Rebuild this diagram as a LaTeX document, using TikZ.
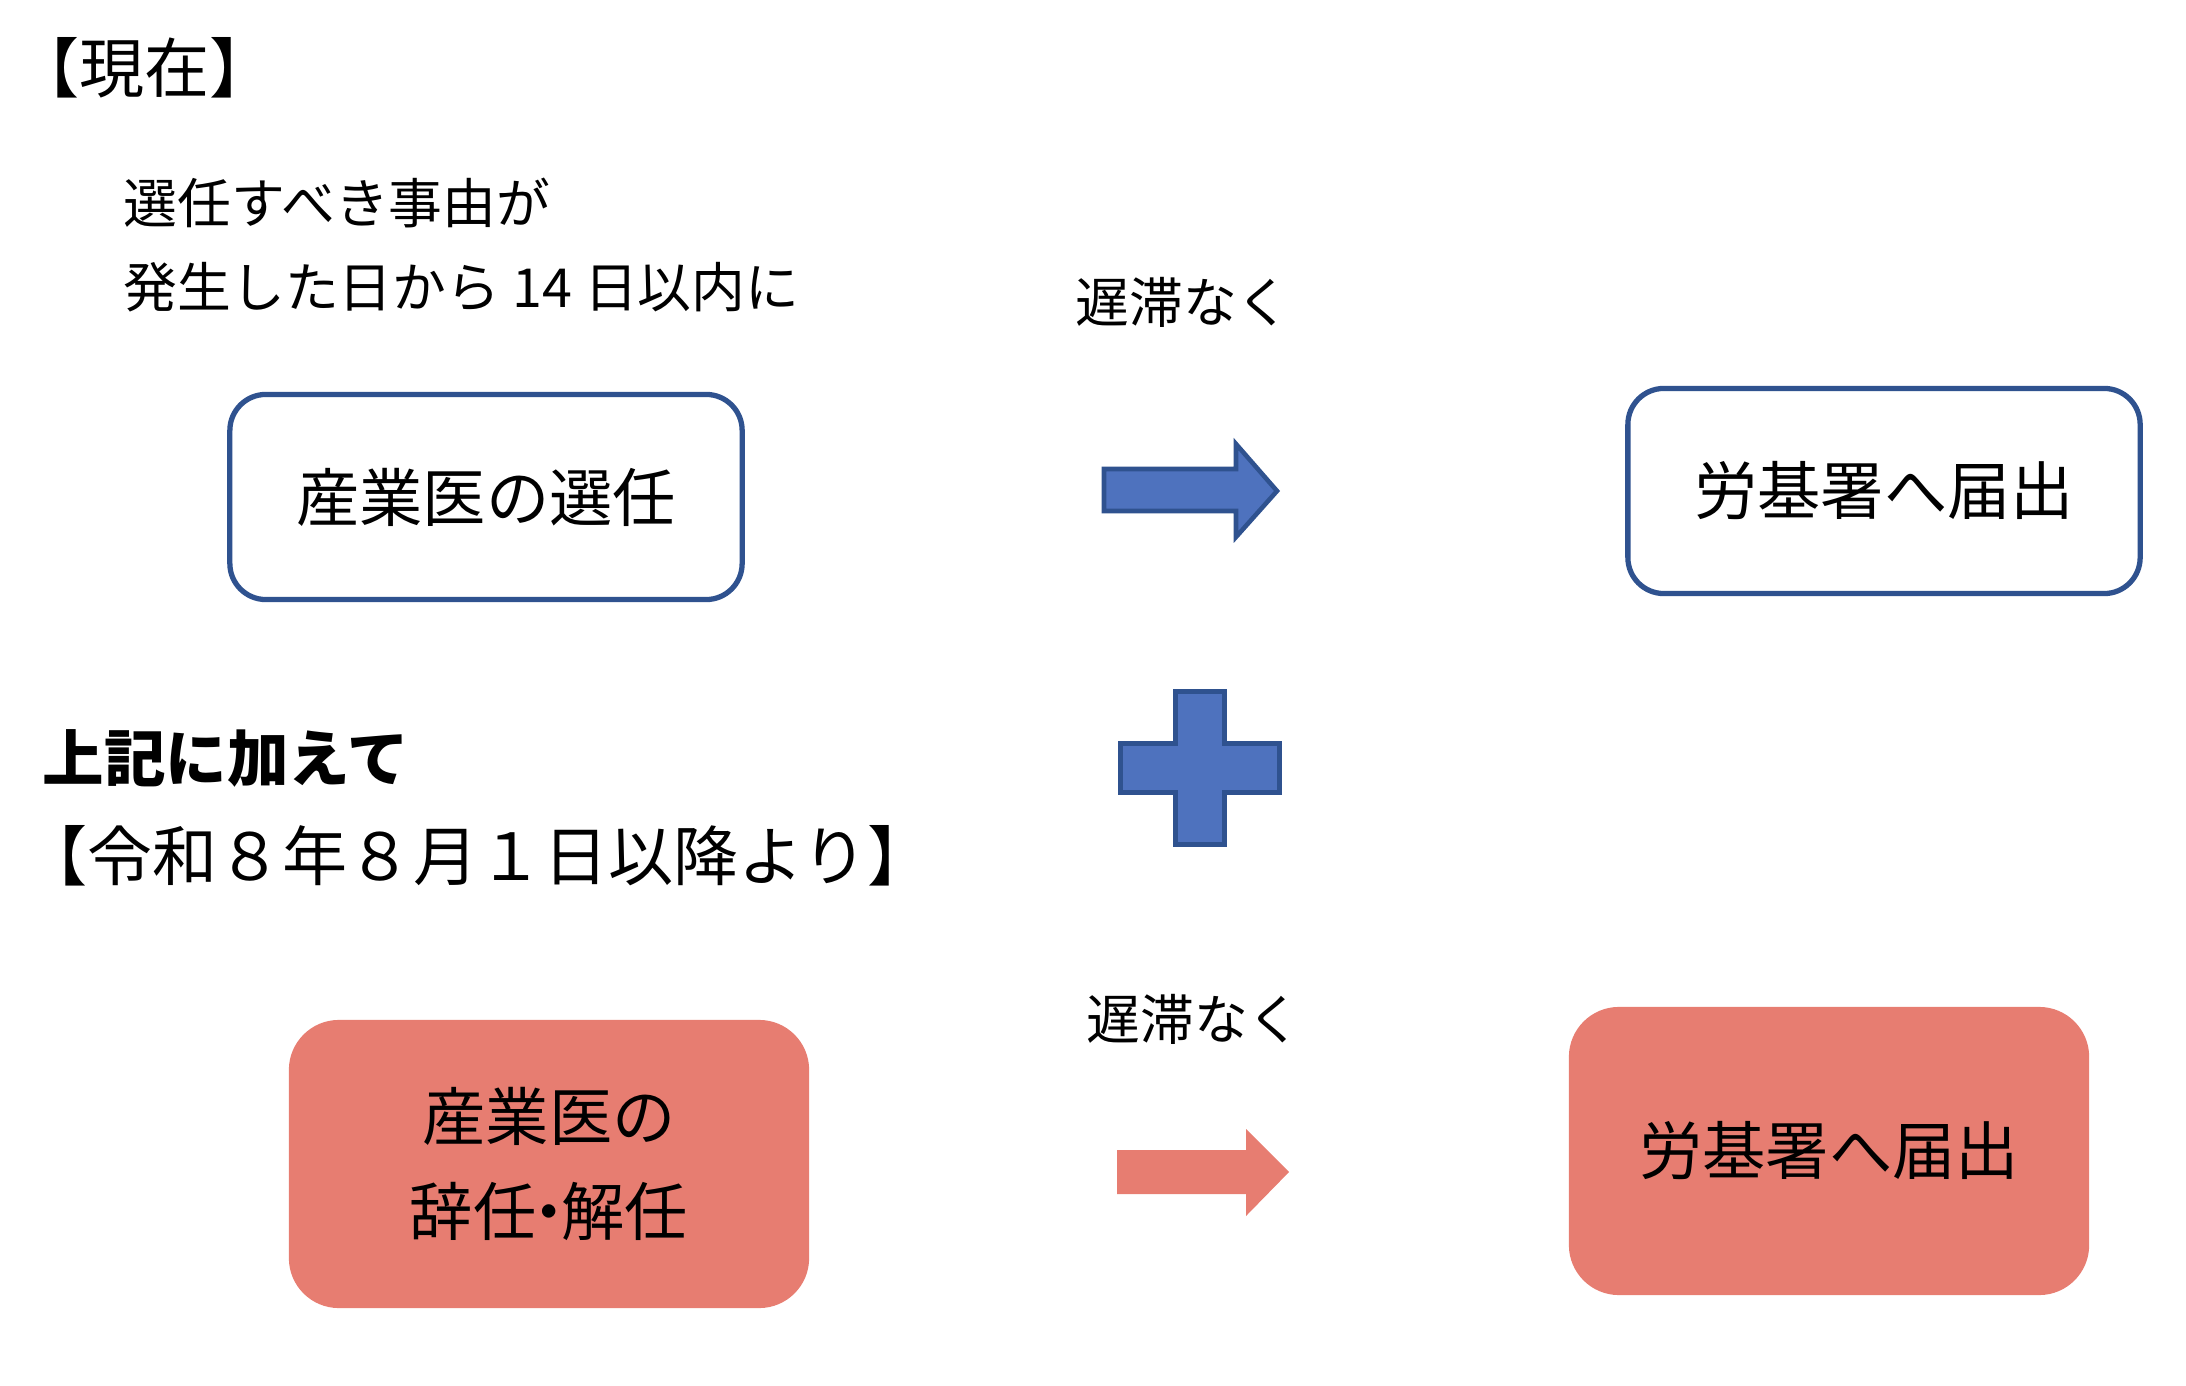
\documentclass[tikz,border=0pt]{standalone}
\usepackage{fontspec}
\setmainfont{Noto Sans CJK JP}
\usepackage{xcolor}
\definecolor{lineblue}{HTML}{2F528F}
\definecolor{fillblue}{HTML}{4E72BE}
\definecolor{fillred}{HTML}{E77D71}

\begin{document}
\begin{tikzpicture}[x=0.01cm,y=-0.01cm,
        bluebox/.style={draw=lineblue,line width=1.5pt,rounded corners=0.36cm,fill=white,
                minimum width=5.12cm,minimum height=2.05cm,font=\fontsize{18}{22}\selectfont},
        redbox/.style={fill=fillred,rounded corners=0.5cm,minimum width=5.2cm,minimum height=2.88cm,
                align=center,font=\fontsize{18}{27.2}\selectfont},
        note/.style={inner sep=0pt,font=\fontsize{15.3}{23.8}\selectfont},
        blockarrow/.style={fill=fillblue,draw=lineblue,line width=1.3pt},
        redarrow/.style={fill=fillred,draw=none}]
        \useasboundingbox (0,0) rectangle (2186,1386);
        \node[inner sep=0pt,anchor=west,font=\fontsize{18.5}{22}\selectfont](now) at (14,68) {【現在】};
        \node[note,anchor=west,align=left](when) at (123,245) {選任すべき事由が\\発生した日から 14 日以内に};
        \node[note](late1) at (1183,302) {遅滞なく};
        \node[bluebox](sel) at (486,497) {産業医の選任};
        \node[bluebox](rep1) at (1884,491) {労基署へ届出};
        \draw[blockarrow] (1104,469) -- (1236,469) -- (1236,444) -- (1277,491) -- (1236,537) -- (1236,511) -- (1104,511) -- cycle;
        \draw[blockarrow] (1175.5,691.5) -- (1224.5,691.5) -- (1224.5,743.5) -- (1279.5,743.5) -- (1279.5,792.5)
                -- (1224.5,792.5) -- (1224.5,844.5) -- (1175.5,844.5) -- (1175.5,792.5) -- (1120.5,792.5)
                -- (1120.5,743.5) -- (1175.5,743.5) -- cycle;
        \node[inner sep=0pt,anchor=west,font=\fontsize{17.5}{20}\selectfont\bfseries](plus) at (42,758) {上記に加えて};
        \node[inner sep=0pt,anchor=west,font=\fontsize{18.5}{22}\selectfont](date) at (22,856) {【令和８年８月１日以降より】};
        \node[note](late2) at (1194,1019) {遅滞なく};
        \node[redbox](resign) at (549,1164) {産業医の\\辞任\kern-0.3em・\kern-0.3em解任};
        \node[redbox](rep2) at (1829,1151) {労基署へ届出};
        \fill[redarrow] (1117,1150) -- (1246,1150) -- (1246,1129) -- (1289,1172) -- (1246,1216) -- (1246,1194) -- (1117,1194) -- cycle;
\end{tikzpicture}
\end{document}
